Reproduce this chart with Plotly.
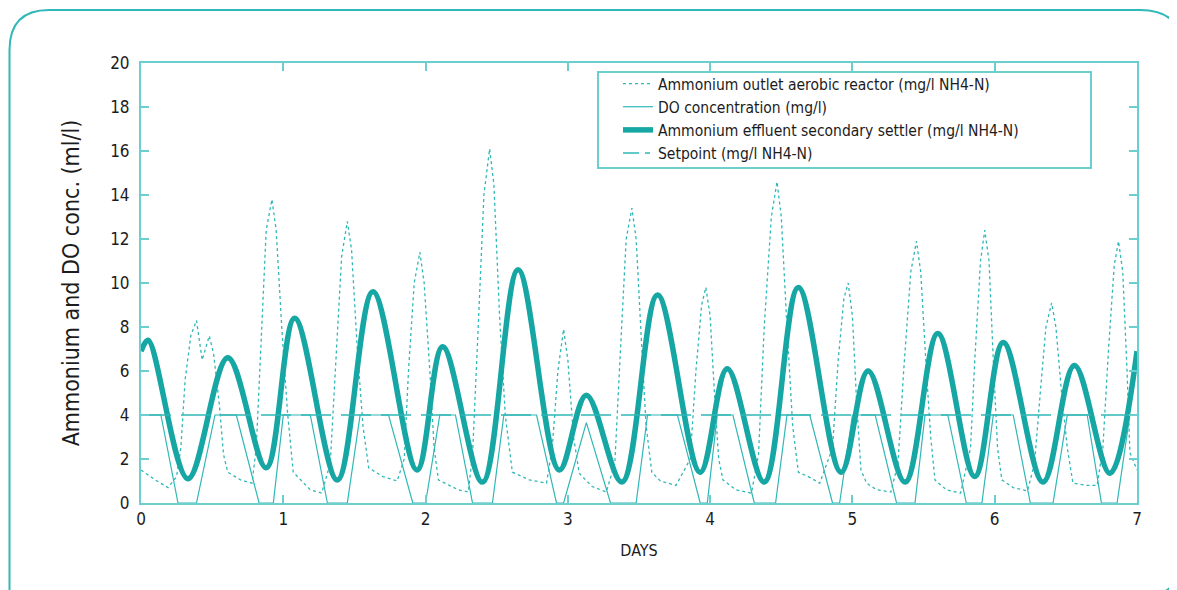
import plotly.graph_objects as go

# ---- data ----
effluent_days = [0, 0.05, 0.33, 0.61, 0.88, 1.08, 1.38, 1.63, 1.94, 2.12, 2.40, 2.65, 2.94, 3.13,
                 3.38, 3.63, 3.93, 4.12, 4.38, 4.62, 4.92, 5.11, 5.37, 5.60, 5.86, 6.06, 6.34,
                 6.56, 6.81, 7.0]
effluent_vals = [6.9, 7.4, 1.1, 6.6, 1.6, 8.4, 1.05, 9.6, 1.5, 7.1, 0.95, 10.6, 1.5, 4.9,
                 0.95, 9.45, 1.4, 6.1, 0.95, 9.8, 1.4, 6.0, 0.95, 7.7, 1.2, 7.3, 0.95,
                 6.25, 1.35, 6.9]

do_days = [0, 0.14, 0.26, 0.39, 0.52, 0.67, 0.83, 0.93, 1.00, 1.19, 1.31, 1.45, 1.54, 1.74,
           1.91, 2.00, 2.10, 2.21, 2.33, 2.47, 2.55, 2.78, 2.92, 2.97, 3.13, 3.30, 3.48, 3.56,
           3.77, 3.93, 3.98, 4.05, 4.16, 4.31, 4.46, 4.54, 4.70, 4.86, 4.91, 5.00, 5.16, 5.31,
           5.44, 5.51, 5.67, 5.80, 5.91, 5.99, 6.13, 6.25, 6.41, 6.51, 6.65, 6.75, 6.86, 6.95, 7.0]
do_vals = [4, 4, 0, 0, 4, 4, 0, 0, 4, 4, 0, 0, 4, 4,
           0, 0, 4, 4, 0, 0, 4, 4, 0, 0, 3.65, 0, 0, 4,
           4, 0, 0, 4, 4, 0, 0, 4, 4, 0, 0, 4, 4, 0,
           0, 4, 4, 0, 0, 4, 4, 0, 0, 4, 4, 0, 0, 4, 4]

outlet_days = [0, 0.10, 0.19, 0.25, 0.28, 0.31, 0.35, 0.39, 0.43, 0.48, 0.51, 0.55, 0.58, 0.61, 0.70, 0.78,
               0.81, 0.85, 0.88, 0.92, 0.95, 0.99, 1.03, 1.07, 1.19, 1.27,
               1.33, 1.37, 1.41, 1.45, 1.48, 1.52, 1.56, 1.60, 1.70, 1.80,
               1.85, 1.88, 1.92, 1.96, 1.99, 2.03, 2.06, 2.09, 2.23, 2.30,
               2.33, 2.37, 2.41, 2.45, 2.48, 2.52, 2.56, 2.61, 2.73, 2.85,
               2.89, 2.93, 2.97, 3.00, 3.04, 3.08, 3.17, 3.27,
               3.33, 3.37, 3.41, 3.45, 3.48, 3.52, 3.55, 3.59, 3.65, 3.76,
               3.86, 3.90, 3.94, 3.97, 4.00, 4.03, 4.06, 4.09, 4.18, 4.29,
               4.34, 4.38, 4.43, 4.47, 4.50, 4.54, 4.58, 4.62, 4.69, 4.77,
               4.86, 4.90, 4.94, 4.97, 5.00, 5.03, 5.06, 5.10, 5.17, 5.27,
               5.32, 5.36, 5.41, 5.45, 5.48, 5.52, 5.55, 5.58, 5.66, 5.76,
               5.83, 5.86, 5.90, 5.93, 5.96, 5.99, 6.02, 6.05, 6.13, 6.23,
               6.28, 6.32, 6.36, 6.40, 6.43, 6.47, 6.51, 6.55, 6.65, 6.72,
               6.76, 6.80, 6.84, 6.87, 6.90, 6.93, 6.95, 7.0]
outlet_vals = [1.5, 1.05, 0.7, 1.2, 2.5, 5.6, 7.6, 8.3, 6.5, 7.6, 6.8, 4.5, 2.2, 1.4, 1.05, 0.9,
               2.5, 8.6, 12.4, 13.8, 12.4, 7.9, 4.1, 1.4, 0.6, 0.45,
               1.8, 6.5, 11.2, 12.8, 11.5, 7.0, 3.5, 1.6, 1.2, 1.0,
               2.0, 6.0, 10.0, 11.4, 10.0, 6.0, 2.5, 1.05, 0.6, 0.5,
               2.2, 8.0, 14.0, 16.1, 14.5, 8.5, 4.0, 1.4, 1.05, 0.9,
               2.5, 6.0, 7.9, 6.5, 3.0, 1.35, 0.75, 0.5,
               1.8, 7.0, 12.0, 13.4, 12.0, 7.0, 3.5, 1.4, 1.0, 0.8,
               2.0, 6.0, 9.0, 9.8, 8.5, 5.0, 2.0, 1.05, 0.6, 0.45,
               2.2, 8.0, 13.0, 14.6, 13.0, 8.0, 3.5, 1.4, 1.2, 0.9,
               2.5, 6.5, 9.3, 10.0, 8.5, 4.5, 1.5, 0.9, 0.6, 0.5,
               1.8, 6.0, 10.5, 11.9, 10.5, 6.0, 3.0, 1.05, 0.6, 0.45,
               2.5, 6.5, 11.0, 12.4, 11.0, 6.5, 2.5, 1.05, 0.7, 0.55,
               1.8, 5.0, 8.0, 9.1, 8.0, 5.0, 2.5, 0.9, 0.8, 0.8,
               2.5, 7.0, 10.8, 11.9, 10.5, 6.0, 2.3, 1.5]

setpoint_days = [0, 7]
setpoint_vals = [4, 4]

y_ticks = [0, 2, 4, 6, 8, 10, 12, 14, 16, 18, 20]
x_ticks = [0, 1, 2, 3, 4, 5, 6, 7]

FONT = "DejaVu Sans Condensed, Liberation Sans Narrow, sans-serif"
TEAL_DARK = "#16a6a3"
TEAL = "#30b7b7"
FRAME = "#6ccfcf"
INK = "#1c1c1c"

# page body adds an 8px margin, so the figure is a bit smaller than the window
OFF = 8
W, H = 1177 - OFF, 590 - OFF
L, T = 141 - OFF, 63 - OFF
R = W - (1137 - OFF)
B = H - (503 - OFF)
PW, PH = W - L - R, H - T - B


def px(x, y):
    # page pixel -> paper coordinates
    fx, fy = x - OFF, y - OFF
    return (fx - L) / PW, (H - B - fy) / PH


fig = go.Figure()
fig.add_trace(go.Scatter(x=outlet_days, y=outlet_vals, mode="lines",
                         name="Ammonium outlet aerobic reactor (mg/l NH4-N)",
                         line=dict(color=TEAL, width=1.3, dash="3px,3px")))
fig.add_trace(go.Scatter(x=do_days, y=do_vals, mode="lines",
                         name="DO concentration (mg/l)",
                         line=dict(color=TEAL, width=1.2)))
fig.add_trace(go.Scatter(x=effluent_days, y=effluent_vals, mode="lines",
                         name="Ammonium effluent secondary settler (mg/l NH4-N)",
                         line=dict(color=TEAL_DARK, width=5.5, shape="spline", smoothing=1.0)))
fig.add_trace(go.Scatter(x=setpoint_days, y=setpoint_vals, mode="lines",
                         name="Setpoint (mg/l NH4-N)", showlegend=False,
                         line=dict(color=TEAL, width=1.5, dash="30px,10px")))
# legend sample for the setpoint (long dash + short dash)
fig.add_trace(go.Scatter(x=[None], y=[None], mode="lines",
                         name="Setpoint (mg/l NH4-N)",
                         line=dict(color=TEAL, width=1.5, dash="16px,6px,5px,10px")))

# outer rounded frame
pts = [(9.5, 620), (9.5, 50), (9.5, 10), (49, 10), (1140, 10), (1182, 10), (1182, 50),
       (1182, 555), (1182, 597), (1140, 597)]
p = [px(*q) for q in pts]
path = (f"M {p[0][0]},{p[0][1]} L {p[1][0]},{p[1][1]} Q {p[2][0]},{p[2][1]} {p[3][0]},{p[3][1]} "
        f"L {p[4][0]},{p[4][1]} Q {p[5][0]},{p[5][1]} {p[6][0]},{p[6][1]} "
        f"L {p[7][0]},{p[7][1]} Q {p[8][0]},{p[8][1]} {p[9][0]},{p[9][1]}")
fig.add_shape(type="path", path=path, xref="paper", yref="paper",
              line=dict(color=TEAL, width=2))

# legend box
lx0, ly0 = px(598, 168)
lx1, ly1 = px(1091, 72)
fig.add_shape(type="rect", xref="paper", yref="paper", x0=lx0, y0=ly0, x1=lx1, y1=ly1,
              line=dict(color=FRAME, width=2), fillcolor="white", layer="below")

lgx, lgy = px(618, 67)
fig.update_layout(
    width=W, height=H,
    margin=dict(l=L, r=R, t=T, b=B),
    paper_bgcolor="white", plot_bgcolor="white",
    font=dict(family=FONT, color=INK, size=17),
    legend=dict(x=lgx, y=lgy, xanchor="left", yanchor="top",
                bgcolor="rgba(0,0,0,0)", borderwidth=0,
                font=dict(size=15.5, color=INK), tracegroupgap=0),
    showlegend=True,
)
fig.update_xaxes(range=[0, 7], tickvals=x_ticks, ticks="inside", ticklen=8, tickwidth=2,
                 tickcolor=FRAME, showline=True, linecolor=FRAME, linewidth=2, mirror="ticks",
                 showgrid=False, zeroline=False, tickfont=dict(size=17, color=INK),
                 title=dict(text="DAYS", font=dict(size=16, color=INK), standoff=16))
fig.update_yaxes(range=[0, 20], tickvals=y_ticks, ticks="inside", ticklen=8, tickwidth=2,
                 tickcolor=FRAME, showline=True, linecolor=FRAME, linewidth=2, mirror="ticks",
                 showgrid=False, zeroline=False, tickfont=dict(size=17, color=INK),
                 ticklabelstandoff=6,
                 title=dict(text="Ammonium and DO conc. (ml/l)", font=dict(size=23, color=INK),
                            standoff=24))

fig.write_html("out.html")
